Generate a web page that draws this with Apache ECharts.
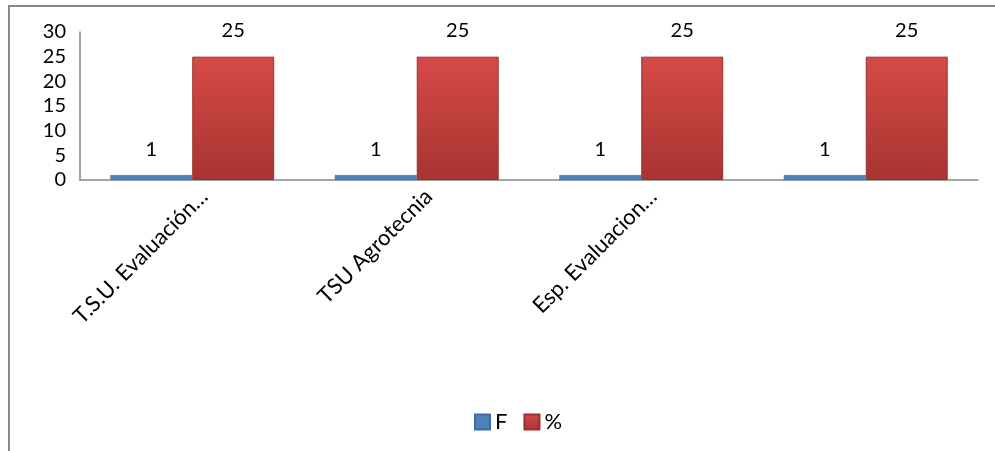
<!DOCTYPE html>
<html><head><meta charset="utf-8">
<script src="https://cdn.jsdelivr.net/npm/echarts@6/dist/echarts.min.js"></script>
<style>html,body{margin:0;padding:0;background:#fff}#c{width:995px;height:451px}</style>
</head><body><div id="c"></div>
<script>
var categories = ["T.S.U. Evaluación…", "TSU Agrotecnia", "Esp. Evaluacion…", ""];
var seriesNames = ["F", "%"];
var valuesF = [1, 1, 1, 1];
var valuesPct = [25, 25, 25, 25];
var yTicks = [0, 5, 10, 15, 20, 25, 30];

var font = "Lato, 'Open Sans', sans-serif";
var chart = echarts.init(document.getElementById('c'), null, {renderer: 'canvas'});
chart.setOption({
  animation: false,
  backgroundColor: '#fff',
  graphic: [{
    type: 'polyline', silent: true,
    shape: {points: [[9, 470], [9, 6], [1010, 6]]},
    style: {fill: 'none', stroke: '#888', lineWidth: 2}
  }],
  grid: {left: 80, right: 17, top: 32, bottom: 271},
  legend: {
    top: 406, left: 469, itemWidth: 15, itemHeight: 15, itemGap: 16,
    icon: 'rect',
    textStyle: {fontFamily: font, fontSize: 22, color: '#000'},
    data: seriesNames
  },
  xAxis: {
    type: 'category', data: categories,
    axisLine: {lineStyle: {color: '#868686', width: 1.5}},
    axisTick: {show: false},
    axisLabel: {rotate: 45, interval: 0, margin: 25, padding: [0, -17, 0, 0], fontFamily: font, fontSize: 22, color: '#000'}
  },
  yAxis: {
    type: 'value', min: yTicks[0], max: yTicks[yTicks.length - 1], interval: 5,
    splitLine: {show: false},
    axisLine: {show: true, lineStyle: {color: '#868686', width: 1.5}},
    axisTick: {show: false},
    axisLabel: {margin: 14, fontFamily: font, fontSize: 20, color: '#000'}
  },
  series: [{
    name: seriesNames[0], type: 'bar', data: valuesF,
    barGap: '0%', barCategoryGap: '27%',
    itemStyle: {color: '#4F81BD', borderColor: '#3E6DA6', borderWidth: 0.5},
    label: {show: true, position: 'top', distance: 16, fontFamily: font, fontSize: 20, color: '#000'}
  }, {
    name: seriesNames[1], type: 'bar', data: valuesPct,
    barGap: '0%', barCategoryGap: '27%',
    itemStyle: {
      color: new echarts.graphic.LinearGradient(0, 0, 0, 1, [
        {offset: 0, color: '#D64A47'}, {offset: 1, color: '#A83431'}
      ]),
      borderColor: '#9A2E2C', borderWidth: 1
    },
    label: {show: true, position: 'top', distance: 16, fontFamily: font, fontSize: 20, color: '#000'}
  }]
});
</script></body></html>
